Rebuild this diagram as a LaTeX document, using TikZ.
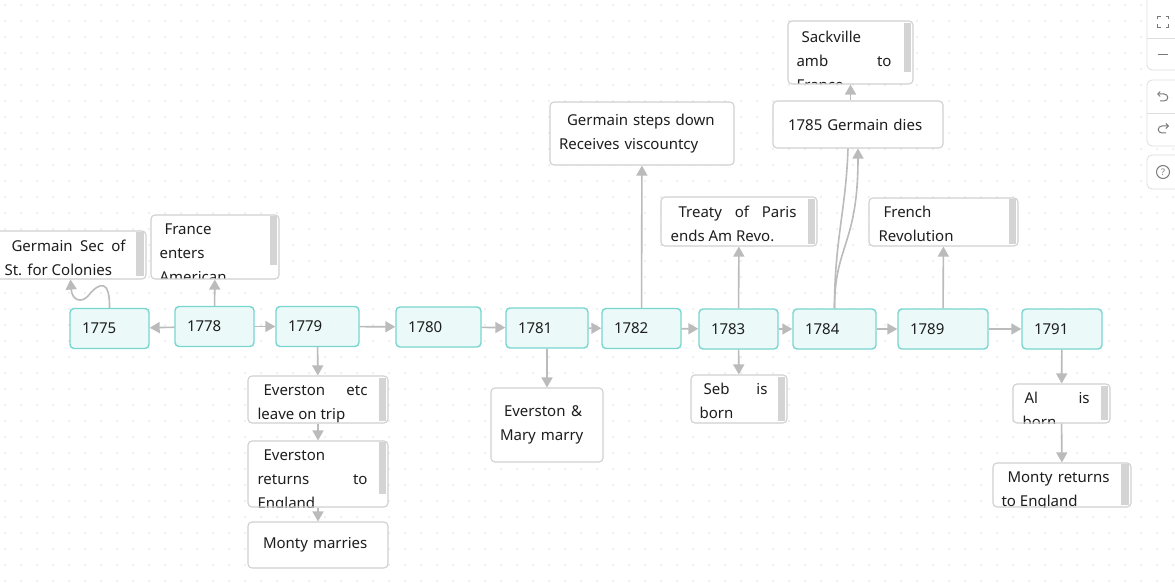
\documentclass[tikz,border=0pt]{standalone}
\usepackage{fontspec}
\setmainfont{Noto Sans}
\usepackage{tikz}
\usetikzlibrary{arrows.meta,calc}
\usepackage{xcolor}
\definecolor{yearfill}{RGB}{235,249,248}
\definecolor{yearline}{RGB}{120,214,208}
\definecolor{boxline}{RGB}{208,208,208}
\definecolor{linkgray}{RGB}{187,187,187}
\definecolor{barfill}{RGB}{212,212,212}
\definecolor{dotgray}{RGB}{224,224,224}
\definecolor{toolline}{RGB}{222,222,222}
\definecolor{icongray}{RGB}{120,120,120}
\definecolor{inkgray}{RGB}{30,30,30}
\newcommand{\tlfont}{\fontsize{15}{24}\selectfont\color{inkgray}}

\begin{document}
\begin{tikzpicture}[x=1pt, y=-1pt,
    year/.style={rectangle, draw=yearline, fill=yearfill, line width=1.4pt, rounded corners=4pt, minimum height=40pt, inner xsep=12pt, text width=#1, align=left, font=\tlfont},
    year/.default=55pt,
    evt/.style={rectangle, draw=boxline, fill=white, line width=1.1pt, rounded corners=4pt, inner xsep=9pt, inner ysep=0pt, align=left, font=\tlfont},
    cliptxt/.style={anchor=north west, inner sep=0pt, minimum width=0pt, minimum height=0pt, align=left, font=\tlfont},
    link/.style={draw=linkgray, line width=1.6pt, -{Triangle[length=10pt,width=11pt]}},
    sbar/.style={fill=barfill},
    tool/.style={draw=toolline, fill=white, line width=0.8pt, rounded corners=5pt},
    icon/.style={draw=icongray, line width=1pt},
]
    \useasboundingbox (0,0) rectangle (1175,585);
    \clip (0,0) rectangle (1175,585);
    \fill[white] (0,0) rectangle (1175,585);

    % Dot grid
    \foreach \gx in {0,...,73}
        \foreach \gy in {0,...,36}
            \fill[dotgray] (5+16*\gx, 5+16*\gy) circle (0.9pt);

    % Years
    \node[year] (y1775) at (109.5, 328.5) {1775};
    \node[year] (y1778) at (214.5, 326.5) {1778};
    \node[year=59pt] (y1779) at (317.5, 326.5) {1779};
    \node[year=61pt] (y1780) at (438.5, 327) {1780};
    \node[year=58pt] (y1781) at (547, 328) {1781};
    \node[year] (y1782) at (641.5, 328.5) {1782};
    \node[year] (y1783) at (738.5, 329) {1783};
    \node[year=59pt] (y1784) at (834.5, 329) {1784};
    \node[year=66pt] (y1789) at (943, 329) {1789};
    \node[year=56pt] (y1791) at (1062, 329) {1791};

    % Events (scrolling boxes keep their text at the top)
    \node[evt, minimum width=151pt, minimum height=48pt, path picture={
        \node[cliptxt] (gsec-txt) at ([shift={(9,8)}]path picture bounding box.north west) {\makebox[121pt][s]{\hspace*{7pt}Germain\hfill Sec\hfill of}\\St. for Colonies};
    }] (gsec) at (70.5, 255) {};
    \node[evt, minimum width=128pt, minimum height=64pt, path picture={
        \node[cliptxt] (france-txt) at ([shift={(8,8)}]path picture bounding box.north west) {\hspace*{5pt}France\\enters\\American};
    }] (france) at (215, 247) {};
    \node[evt, minimum width=140pt, minimum height=47pt, path picture={
        \node[cliptxt] (ev1-txt) at ([shift={(9,8)}]path picture bounding box.north west) {\makebox[110pt][s]{\hspace*{6pt}Everston\hfill etc}\\leave on trip};
    }] (ev1) at (318, 399.5) {};
    \node[evt, minimum width=140pt, minimum height=66pt, path picture={
        \node[cliptxt] (ev2-txt) at ([shift={(9,8)}]path picture bounding box.north west) {\hspace*{6pt}Everston\\\makebox[110pt][s]{returns\hfill to}\\England};
    }] (ev2) at (318, 474) {};
    \node[evt, text width=122pt, minimum height=46pt] (monty) at (318, 545) {\hspace*{6pt}Monty marries};
    \node[evt, text width=94pt, minimum height=74pt] (evmary) at (547, 425) {\makebox[82pt][s]{\hspace*{4pt}Everston\hfill\&}\\Mary marry};
    \node[evt, text width=166pt, minimum height=63pt] (gstep) at (642, 133.5) {\hspace*{8pt}Germain steps down\\Receives viscountcy};
    \node[evt, minimum width=156pt, minimum height=49pt, path picture={
        \node[cliptxt] (treaty-txt) at ([shift={(9,8)}]path picture bounding box.north west) {\makebox[126pt][s]{\hspace*{8pt}Treaty\hfill of\hfill Paris}\\ends Am Revo.};
    }] (treaty) at (739, 221.5) {};
    \node[evt, minimum width=125pt, minimum height=63pt, path picture={
        \node[cliptxt] (sack-txt) at ([shift={(8,10)}]path picture bounding box.north west) {\hspace*{5pt}Sackville\\\makebox[95pt][s]{amb\hfill to}\\France};
    }] (sack) at (850.5, 52.5) {};
    \node[evt, text width=152pt, minimum height=47pt] (gdies) at (858, 124.5) {\hspace*{6pt}1785 Germain dies};
    \node[evt, minimum width=96pt, minimum height=48pt, path picture={
        \node[cliptxt] (seb-txt) at ([shift={(8,8)}]path picture bounding box.north west) {\makebox[68pt][s]{\hspace*{4pt}Seb\hfill is}\\born};
    }] (seb) at (739, 399) {};
    \node[evt, minimum width=149pt, minimum height=48pt, path picture={
        \node[cliptxt] (french-txt) at ([shift={(9,8)}]path picture bounding box.north west) {\hspace*{5pt}French\\Revolution};
    }] (french) at (943.5, 222) {};
    \node[evt, minimum width=97pt, minimum height=39pt, path picture={
        \node[cliptxt] (al-txt) at ([shift={(9,8)}]path picture bounding box.north west) {\makebox[67pt][s]{\hspace*{2pt}Al\hfill is}\\born};
    }] (al) at (1061.5, 403.5) {};
    \node[evt, minimum width=138pt, minimum height=44pt, path picture={
        \node[cliptxt] (mret-txt) at ([shift={(8,8)}]path picture bounding box.north west) {\makebox[108pt][s]{\hspace*{6pt}Monty\hfill returns}\\to England};
    }] (mret) at (1062, 485) {};

    % Scroll bars
    \fill[sbar] ([shift={(-11,2)}]gsec.north east) rectangle ([shift={(-3,-4)}]gsec.south east);
    \fill[sbar] ([shift={(-10,2)}]france.north east) rectangle ([shift={(-2.5,-15)}]france.south east);
    \fill[sbar] ([shift={(-10,3)}]ev1.north east) rectangle ([shift={(-2.5,-3)}]ev1.south east);
    \fill[sbar] ([shift={(-10,2)}]ev2.north east) rectangle ([shift={(-2.5,-14)}]ev2.south east);
    \fill[sbar] ([shift={(-10,3)}]treaty.north east) rectangle ([shift={(-2.5,-3)}]treaty.south east);
    \fill[sbar] ([shift={(-10,3)}]sack.north east) rectangle ([shift={(-2.5,-13)}]sack.south east);
    \fill[sbar] ([shift={(-10,3)}]seb.north east) rectangle ([shift={(-2.5,-3)}]seb.south east);
    \fill[sbar] ([shift={(-10,2)}]french.north east) rectangle ([shift={(-2.5,-3)}]french.south east);
    \fill[sbar] ([shift={(-10,3)}]al.north east) rectangle ([shift={(-2.5,-4)}]al.south east);
    \fill[sbar] ([shift={(-10.5,2)}]mret.north east) rectangle ([shift={(-3,-3)}]mret.south east);

    % Timeline arrows
    \draw[link] (y1778) -- (y1775);
    \draw[link] (y1778) -- (y1779);
    \draw[link] (y1779) -- (y1780);
    \draw[link] (y1780) -- (y1781);
    \draw[link] (y1781) -- (y1782);
    \draw[link] (y1782) -- (y1783);
    \draw[link] (y1783) -- (y1784);
    \draw[link] (y1784) -- (y1789);
    \draw[link] (y1789) -- (y1791);

    % Event arrows
    \draw[link] (y1775.north) .. controls (110,280) and (100,281) .. (88,296) .. controls (82,303) and (72,301) .. (gsec.south);
    \draw[link] (y1778) -- (france);
    \draw[link] (y1779) -- (ev1);
    \draw[link] (ev1) -- (ev2);
    \draw[link] (ev2) -- (monty);
    \draw[link] (y1781) -- (evmary);
    \draw[link] (y1782) -- (gstep);
    \draw[link] (y1783) -- (treaty);
    \draw[link] (y1783) -- (seb);
    \draw[link] (y1784.north) .. controls (834.5,245) and (858,245) .. (gdies.south);
    \draw[draw=linkgray, line width=1.6pt] (y1784.north) .. controls (834.5,240) and (846,210) .. ([xshift=-10pt]gdies.south);
    \draw[link] (gdies.north -| sack) -- (sack);
    \draw[link] (y1789) -- (french);
    \draw[link] (y1791) -- (al);
    \draw[link] (al) -- (mret);

    % Toolbar
    \draw[tool] (1147,-10) rectangle (1190,70);
    \draw[toolline, line width=0.8pt] (1147,38) -- (1175,38);
    \draw[icon] (1157.5,19.5) |- (1160.5,16.5);
    \draw[icon] (1165.5,16.5) -| (1168.5,19.5);
    \draw[icon] (1168.5,24.5) |- (1165.5,27.5);
    \draw[icon] (1160.5,27.5) -| (1157.5,24.5);
    \draw[icon] (1158,55) -- (1168,55);
    \draw[tool] (1147,80) rectangle (1190,146);
    \draw[toolline, line width=0.8pt] (1147,113) -- (1175,113);
    \draw[icon, -{Straight Barb[length=2.5pt,width=5pt]}] (1160,101) -- (1164,101) .. controls (1169,101) and (1169,94) .. (1164,94) -- (1157,94);
    \draw[icon, -{Straight Barb[length=2.5pt,width=5pt]}] (1166,133) -- (1162,133) .. controls (1157,133) and (1157,126) .. (1162,126) -- (1169,126);
    \draw[tool] (1147,155) rectangle (1190,189);
    \draw[icon] (1163,172) circle (6.5pt);
    \node[font=\fontsize{9}{9}\selectfont, text=icongray, inner sep=0pt] (help) at (1163,172.5) {?};
\end{tikzpicture}
\end{document}
